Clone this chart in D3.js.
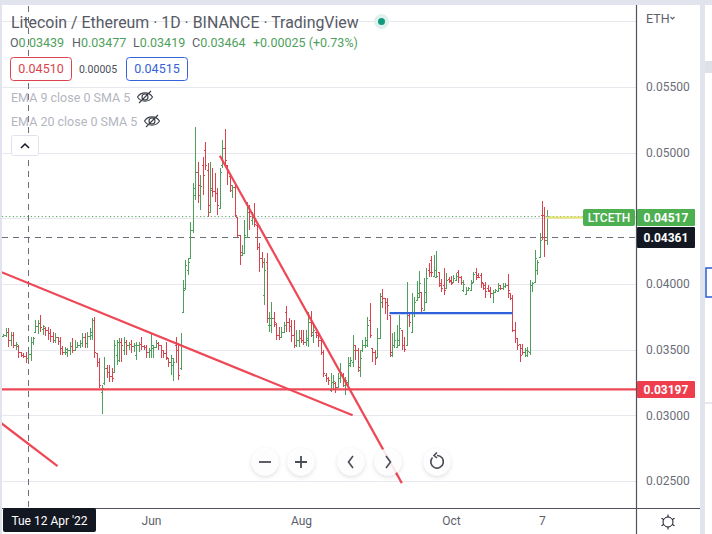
<!DOCTYPE html>
<html><head><meta charset="utf-8">
<script src="https://cdn.jsdelivr.net/npm/d3@7/dist/d3.min.js"></script>
<style>html,body{margin:0;padding:0;background:#fff}svg{display:block}text{font-family:Roboto,"Open Sans",sans-serif}</style>
</head><body><div id="chart"></div>
<script>
const firstBarDate = "2022-04-02";
const opens = [
.03604,.03611,.03634,.03573,.03611,.03535,.03528,.03482,.03459,.03451,
.03439,.03467,.03558,.03634,.03680,.03703,.03657,.03665,.03649,.03627,
.03604,.03573,.03596,.03566,.03512,.03482,.03482,.03497,.03528,.03497,
.03520,.03535,.03550,.03596,.03550,.03604,.03611,.03726,.03474,.03406,
.03177,.03246,.03360,.03329,.03299,.03329,.03459,.03421,.03558,.03497,
.03558,.03535,.03543,.03528,.03459,.03535,.03543,.03528,.03520,.03482,
.03497,.03512,.03520,.03550,.03535,.03497,.03474,.03436,.03406,.03383,
.03535,.03497,.03360,.03787,.03970,.04107,.04198,.04411,.04678,.04853,
.04678,.04907,.05021,.04869,.04549,.04732,.04709,.04693,.04579,.04907,
.05036,.04907,.04823,.04716,.04739,.04511,.04373,.04221,.04236,.04358,
.04549,.04488,.04511,.04450,.04282,.04198,.03916,.04168,.03688,.03688,
.03741,.03695,.03611,.03596,.03634,.03787,.03710,.03680,.03611,.03535,
.03573,.03589,.03573,.03558,.03573,.03710,.03611,.03634,.03611,.03573,
.03482,.03307,.03284,.03192,.03253,.03246,.03215,.03284,.03314,.03230,
.03253,.03383,.03406,.03535,.03497,.03345,.03497,.03535,.03535,.03726,
.03512,.03482,.03444,.03589,.03909,.03893,.03863,.03764,.03459,.03535,
.03520,.03535,.03649,.03535,.03535,.03764,.03634,.03787,.03878,.03901,
.03939,.03802,.03863,.04107,.04183,.04061,.04053,.04091,.04008,.03992,
.03970,.04038,.04030,.04015,.04030,.04091,.04053,.03954,.03924,.03954,
.03954,.04015,.04091,.04069,.04069,.04008,.03992,.03970,.03947,.03931,
.03939,.03947,.03992,.03970,.03985,.03992,.03931,.03893,.03649,.03589,
.03543,.03512,.03482,.03459,.03482,.03992,.04015,.04107,.04206,.04526,
.04526,.04335];
const highs = [
.03619,.03665,.03665,.03634,.03634,.03558,.03535,.03482,.03474,.03482,
.03477,.03596,.03596,.03726,.03726,.03764,.03688,.03672,.03672,.03657,
.03634,.03627,.03596,.03596,.03528,.03520,.03512,.03558,.03589,.03573,
.03558,.03573,.03627,.03627,.03634,.03665,.03741,.03749,.03474,.03436,
.03230,.03444,.03383,.03383,.03360,.03573,.03573,.03589,.03589,.03596,
.03573,.03558,.03573,.03550,.03558,.03558,.03596,.03535,.03535,.03512,
.03627,.03535,.03573,.03558,.03535,.03497,.03558,.03436,.03459,.03436,
.03596,.03550,.03627,.04030,.04183,.04198,.04472,.04770,.05196,.04930,
.04831,.04968,.05082,.04922,.04930,.04884,.04846,.04732,.04884,.05097,
.05181,.04907,.04831,.04754,.04754,.04511,.04373,.04297,.04488,.04625,
.04602,.04549,.04617,.04450,.04312,.04244,.04198,.04236,.03787,.03863,
.03787,.03703,.03672,.03672,.03710,.03832,.03741,.03726,.03726,.03649,
.03649,.03649,.03649,.03649,.03787,.03794,.03703,.03634,.03634,.03589,
.03497,.03322,.03291,.03322,.03307,.03253,.03322,.03398,.03322,.03291,
.03444,.03444,.03611,.03535,.03512,.03497,.03573,.03596,.03749,.03855,
.03512,.03497,.03665,.03931,.03962,.03893,.03893,.03764,.03627,.03634,
.03688,.03764,.03649,.03596,.04015,.03779,.03931,.03901,.04023,.04099,
.03939,.04046,.04122,.04160,.04213,.04221,.04251,.04091,.04038,.04122,
.04084,.04053,.04061,.04069,.04084,.04107,.04061,.04030,.03977,.03977,
.04030,.04091,.04122,.04084,.04084,.04008,.04015,.03992,.03977,.03954,
.03962,.04008,.03992,.04008,.04008,.04076,.03931,.03916,.03710,.03589,
.03543,.03543,.03512,.03520,.04030,.04015,.04259,.04183,.04389,.04632,
.04587,.04564];
const lows = [
.03596,.03596,.03520,.03528,.03512,.03497,.03436,.03444,.03436,.03398,
.03419,.03413,.03535,.03627,.03619,.03634,.03611,.03604,.03573,.03558,
.03550,.03550,.03535,.03459,.03459,.03459,.03444,.03459,.03474,.03497,
.03512,.03512,.03520,.03512,.03512,.03573,.03573,.03436,.03368,.03208,
.03009,.03230,.03284,.03253,.03253,.03322,.03383,.03406,.03406,.03459,
.03459,.03497,.03474,.03482,.03421,.03482,.03497,.03497,.03436,.03436,
.03436,.03436,.03512,.03497,.03436,.03436,.03421,.03368,.03307,.03261,
.03398,.03268,.03345,.03779,.03954,.04069,.04198,.04389,.04640,.04617,
.04564,.04678,.04869,.04511,.04549,.04663,.04625,.04526,.04579,.04884,
.04907,.04754,.04701,.04655,.04511,.04358,.04145,.04221,.04236,.04358,
.04411,.04450,.04434,.04259,.04091,.04122,.03840,.03703,.03634,.03627,
.03672,.03573,.03573,.03589,.03634,.03634,.03634,.03558,.03512,.03520,
.03520,.03550,.03535,.03528,.03520,.03596,.03550,.03589,.03520,.03459,
.03291,.03253,.03230,.03177,.03192,.03169,.03208,.03246,.03215,.03154,
.03230,.03368,.03368,.03421,.03329,.03291,.03482,.03512,.03520,.03589,
.03406,.03383,.03444,.03589,.03817,.03771,.03726,.03444,.03444,.03512,
.03512,.03535,.03497,.03482,.03535,.03672,.03634,.03749,.03878,.03901,
.03787,.03802,.03863,.04053,.04053,.04053,.04053,.03977,.03939,.03916,
.03970,.04008,.03992,.04008,.04030,.04008,.03992,.03939,.03916,.03954,
.03954,.04015,.04030,.04046,.03970,.03954,.03893,.03939,.03893,.03855,
.03939,.03939,.03954,.03954,.03970,.03893,.03878,.03634,.03550,.03497,
.03406,.03459,.03444,.03444,.03459,.03939,.04015,.04069,.04206,.04335,
.04206,.04297];
const closes = [
.03611,.03634,.03573,.03611,.03535,.03543,.03482,.03459,.03451,.03436,
.03464,.03558,.03589,.03680,.03703,.03672,.03680,.03649,.03627,.03604,
.03573,.03596,.03566,.03512,.03482,.03505,.03497,.03528,.03497,.03520,
.03535,.03550,.03596,.03550,.03604,.03634,.03726,.03482,.03406,.03230,
.03208,.03360,.03329,.03299,.03284,.03535,.03558,.03558,.03535,.03558,
.03535,.03543,.03528,.03535,.03535,.03543,.03528,.03520,.03482,.03497,
.03535,.03520,.03550,.03535,.03497,.03474,.03444,.03406,.03436,.03406,
.03497,.03307,.03535,.03954,.04145,.04168,.04411,.04732,.04853,.04754,
.04747,.04831,.04907,.04602,.04716,.04709,.04693,.04602,.04853,.05036,
.04945,.04853,.04754,.04739,.04526,.04373,.04244,.04236,.04373,.04549,
.04518,.04511,.04457,.04282,.04198,.04168,.04107,.03741,.03741,.03741,
.03710,.03611,.03596,.03634,.03688,.03710,.03680,.03611,.03535,.03573,
.03589,.03573,.03558,.03589,.03710,.03634,.03649,.03611,.03573,.03482,
.03322,.03284,.03268,.03253,.03261,.03215,.03284,.03329,.03268,.03268,
.03398,.03421,.03497,.03497,.03368,.03436,.03535,.03573,.03688,.03611,
.03482,.03436,.03589,.03863,.03893,.03863,.03840,.03482,.03535,.03573,
.03573,.03665,.03535,.03505,.03779,.03710,.03787,.03863,.03931,.04008,
.03817,.03939,.04046,.04091,.04091,.04107,.04061,.03992,.03970,.03954,
.04030,.04023,.04008,.04046,.04061,.04053,.04015,.04000,.03954,.03970,
.04008,.04076,.04053,.04053,.04015,.03970,.03947,.03954,.03931,.03939,
.03954,.03970,.03970,.03985,.03992,.03954,.03893,.03649,.03589,.03535,
.03459,.03482,.03497,.03489,.03992,.04008,.04198,.04168,.04335,.04358,
.04335,.04517];

const yTicks = [0.06, 0.055, 0.05, 0.045, 0.04, 0.035, 0.03, 0.025];
const yTickLabels = ["", "0.05500", "0.05000", "", "0.04000", "0.03500", "0.03000", "0.02500"];
const xTickDates = ["2022-06-01", "2022-08-01", "2022-10-01", "2022-11-07"];
const xTickLabels = ["Jun", "Aug", "Oct", "7"];
const trendA = [["2022-03-31", .04099], ["2022-08-22", .03000]];
const trendB = [["2022-06-29", .04977], ["2022-09-11", .02484]];
const trendC = [["2022-03-31", .02956], ["2022-04-24", .02613]];
const supportLevel = .03197;
const rangeLine = [["2022-09-06", .03779], ["2022-10-26", .03779]];
const crosshairDate = "2022-04-12";
const crosshairPrice = .04361;
const lastPrice = .04517;

const W = 712, H = 534, axisX = 636, axisBottom = 508, plotL = 2, plotT = 6, bandR = 700;
const parse = s => new Date(s + "T00:00:00Z");
const x = d3.scaleUtc().domain([parse("2022-06-01"), parse("2022-08-01")]).range([151, 301]);
const y = d3.scaleLinear().domain([0.055, 0.025]).range([87, 481]);
const UP = "#4f9f5c", DOWN = "#d8434e", RED = "#ee3e4e", GRID = "#e6e8ee";

const svg = d3.select("#chart").append("svg").attr("width", W).attr("height", H);
const defs = svg.append("defs");
defs.append("clipPath").attr("id", "plot").append("rect")
  .attr("x", plotL).attr("y", plotT).attr("width", axisX - plotL).attr("height", axisBottom - plotT);
const shadow = defs.append("filter").attr("id", "sh").attr("x", "-40%").attr("y", "-40%").attr("width", "180%").attr("height", "180%");
shadow.append("feDropShadow").attr("dx", 0).attr("dy", 1.5).attr("stdDeviation", 2).attr("flood-color", "#000").attr("flood-opacity", .16);

// page frame
svg.append("rect").attr("width", W).attr("height", H).attr("fill", "#fff");
const BAND = "#e1e4ec";
svg.append("rect").attr("width", W).attr("height", 5).attr("fill", BAND);
svg.append("rect").attr("width", 2).attr("height", H).attr("fill", BAND);
svg.append("rect").attr("x", bandR).attr("width", 5).attr("height", H).attr("fill", BAND);
svg.append("rect").attr("x", 705).attr("y", 61).attr("width", 7).attr("height", 12).attr("fill", "#dfe1e8");
svg.append("rect").attr("x", 705).attr("y", 402).attr("width", 7).attr("height", 2).attr("fill", "#e6e8ee");
svg.append("rect").attr("x", 706).attr("y", 268).attr("width", 8).attr("height", 29).attr("fill", "#fff").attr("stroke", "#3563d8").attr("stroke-width", 1.6);

// grid
svg.append("g").selectAll("line").data(yTicks).join("line")
  .attr("x1", plotL).attr("x2", axisX).attr("y1", d => Math.round(y(d)) + .5).attr("y2", d => Math.round(y(d)) + .5)
  .attr("stroke", GRID);

const plot = svg.append("g").attr("clip-path", "url(#plot)");
// last price dotted
plot.append("line").attr("x1", plotL).attr("x2", axisX).attr("y1", y(lastPrice) + .5).attr("y2", y(lastPrice) + .5)
  .attr("stroke", "#4f9f5c").attr("stroke-dasharray", "1.2 2.4");
// crosshair
const xh = plot.append("g").attr("stroke", "#6b6e78");
xh.append("line").attr("x1", Math.round(x(parse(crosshairDate))) + .5).attr("x2", Math.round(x(parse(crosshairDate))) + .5)
  .attr("y1", plotT).attr("y2", axisBottom).attr("stroke-dasharray", "6 5");
xh.append("line").attr("x1", plotL).attr("x2", axisX).attr("y1", Math.round(y(crosshairPrice)) + .5).attr("y2", Math.round(y(crosshairPrice)) + .5).attr("stroke-dasharray", "6 5");

// OHLC bars
const t0 = parse(firstBarDate);
const bars = opens.map((o, i) => ({ date: d3.utcDay.offset(t0, i), o, h: highs[i], l: lows[i], c: closes[i] }));
plot.append("g").attr("shape-rendering", "crispEdges").attr("fill", "none").selectAll("path").data(bars).join("path")
  .attr("stroke", d => d.c >= d.o ? UP : DOWN)
  .attr("d", d => {
    const px = Math.round(x(d.date)) + .5;
    return `M${px},${y(d.h)}V${y(d.l)}M${px - 1.5},${Math.round(y(d.o)) + .5}H${px}M${px},${Math.round(y(d.c)) + .5}H${px + 1.5}`;
  });

// drawings
const line = d3.line().x(d => x(parse(d[0]))).y(d => y(d[1]));
const RL = plot.append("g").attr("fill", "none").attr("stroke", RED).attr("stroke-width", 2.2).attr("opacity", .95);
RL.append("path").attr("d", line(trendA));
RL.append("path").attr("d", line(trendB));
RL.append("path").attr("d", line(trendC));
RL.append("path").attr("d", line([["2022-03-31", supportLevel], ["2022-12-31", supportLevel]]));
plot.append("path").attr("d", line(rangeLine)).attr("fill", "none").attr("stroke", "#2f62d8").attr("stroke-width", 2.2);
// yellow line to label
plot.append("line").attr("x1", x(bars[bars.length - 1].date)).attr("x2", 583).attr("y1", y(lastPrice) + 1.5).attr("y2", y(lastPrice) + 1.5)
  .attr("stroke", "#e8e36b").attr("stroke-width", 2);

// axes
const yAxis = d3.axisRight(y).tickValues(yTicks).tickSize(0).tickPadding(10).tickFormat((d, i) => yTickLabels[i]);
const gy = svg.append("g").attr("transform", `translate(${axisX},0)`).call(yAxis);
gy.select(".domain").remove();
gy.selectAll("text").attr("fill", "#6a6d78").attr("font-size", 12);
const xAxis = d3.axisBottom(x).tickValues(xTickDates.map(parse)).tickSize(0).tickPadding(8).tickFormat((d, i) => xTickLabels[i]);
const gx = svg.append("g").attr("transform", `translate(0,${axisBottom})`).call(xAxis);
gx.select(".domain").remove();
gx.selectAll("text").attr("fill", "#5d606b").attr("font-size", 12);

svg.append("line").attr("x1", axisX + .5).attr("x2", axisX + .5).attr("y1", 5).attr("y2", H).attr("stroke", "#50535e").attr("stroke-width", 1.2);
svg.append("line").attr("x1", plotL).attr("x2", bandR).attr("y1", axisBottom + .5).attr("y2", axisBottom + .5).attr("stroke", "#50535e").attr("stroke-width", 1.2);

// price labels
function pill(px, py, w, h, fill, txt, size, weight, r) {
  svg.append("rect").attr("x", px).attr("y", py).attr("width", w).attr("height", h).attr("fill", fill).attr("rx", r || 1);
  svg.append("text").attr("x", px + w / 2).attr("y", py + h / 2 + .5).attr("dy", ".35em").attr("text-anchor", "middle")
    .attr("fill", "#fff").attr("font-size", size).attr("font-weight", weight).text(txt);
}
pill(583, 209, 52, 17, "#4caf50", "LTCETH", 12, 500, 2);
pill(637, 209, 58, 17, "#4caf50", lastPrice.toFixed(5), 12, 700, 1);
pill(637, 227, 58, 21, "#131722", crosshairPrice.toFixed(5), 12, 700, 1);
pill(637, 381, 58, 17, "#ee3e4e", supportLevel.toFixed(5), 12, 700, 1);
pill(3, 508, 93, 24, "#131722", "Tue 12 Apr '22", 12, 400, 2);

// header
const T = (tx, ty, s, size, fill, extra) => {
  const n = svg.append("text").attr("x", tx).attr("y", ty).attr("font-size", size).attr("fill", fill).text(s);
  if (extra) extra(n);
  return n;
};
T(11, 28, "Litecoin / Ethereum · 1D · BINANCE · TradingView", 15.9, "#575a65");
svg.append("circle").attr("cx", 381.5).attr("cy", 21.5).attr("r", 7.5).attr("fill", "#e0f0ec");
svg.append("circle").attr("cx", 381.5).attr("cy", 21.5).attr("r", 3.5).attr("fill", "#119a7c");
const ohlc = [["O", "0.03439"], ["H", "0.03477"], ["L", "0.03419"], ["C", "0.03464"]];
const ohlcX = [10, 72, 133, 192];
ohlc.forEach((d, i) => {
  const n = T(ohlcX[i], 47, "", 12.5, "#5d606b");
  n.append("tspan").text(d[0]);
  n.append("tspan").attr("fill", "#4f9f5c").text(d[1]);
});
T(253, 47, "+0.00025 (+0.73%)", 12.5, "#4f9f5c");
svg.append("rect").attr("x", 10.5).attr("y", 57.5).attr("width", 61).attr("height", 23).attr("rx", 3).attr("fill", "#fff").attr("stroke", "#d8434e");
T(41, 73, "0.04510", 12.5, "#d8434e", n => n.attr("text-anchor", "middle"));
T(98, 73, "0.00005", 10.5, "#4b4e58", n => n.attr("text-anchor", "middle"));
svg.append("rect").attr("x", 126.5).attr("y", 57.5).attr("width", 61).attr("height", 23).attr("rx", 3).attr("fill", "#fff").attr("stroke", "#3563d8");
T(157, 73, "0.04515", 12.5, "#3563d8", n => n.attr("text-anchor", "middle"));
T(11, 102, "EMA 9 close 0 SMA 5", 12.5, "#b4b6bf");
T(11, 126, "EMA 20 close 0 SMA 5", 12.5, "#b4b6bf");

function eye(cx, cy) {
  const g = svg.append("g").attr("transform", `translate(${cx},${cy})`).attr("fill", "none").attr("stroke", "#3a3d47").attr("stroke-width", 1.1);
  g.append("path").attr("d", "M-7.5,0C-4,-5.5 4,-5.5 7.5,0C4,5.5 -4,5.5 -7.5,0Z");
  g.append("path").attr("d", "M-3,0A3,3 0 0 1 3,0A3,3 0 0 1 -3,0Z");
  g.append("path").attr("d", "M-6,6L6,-6");
}
eye(145, 97); eye(152, 121);

svg.append("rect").attr("x", 11.5).attr("y", 135.5).attr("width", 27).attr("height", 20).attr("rx", 2).attr("fill", "#fff").attr("stroke", "#e0e3eb");
svg.append("path").attr("d", "M21,148L25,144L29,148").attr("fill", "none").attr("stroke", "#131722").attr("stroke-width", 1.5);

T(646, 23, "ETH", 12.5, "#5d606b");
svg.append("path").attr("d", "M670.5,17L672.5,19L674.5,17").attr("fill", "none").attr("stroke", "#5d606b").attr("stroke-width", 1.1);

// nav buttons
const navX = [265, 301, 351, 388, 437];
const navY = 462;
const nav = svg.append("g").selectAll("circle").data(navX).join("circle")
  .attr("cx", d => d).attr("cy", navY).attr("r", 13.5).attr("fill", "#fff").attr("fill-opacity", .86).attr("filter", "url(#sh)");
const icon = (d, sw) => svg.append("path").attr("d", d).attr("fill", "none").attr("stroke", "#4a4d57").attr("stroke-width", sw || 1.8);
icon("M259,462H271");
icon("M295,462H307M301,456V468");
icon("M353,456L348.5,462L353,468", 1.6);
icon("M386,456L390.5,462L386,468", 1.6);
icon("M432.5,457.5A6.3,6.3 0 1 0 437,455.5M437,452.5L434,455.5L437,458", 1.6);

// sun icon
const sun = svg.append("g").attr("transform", "translate(668,522)").attr("fill", "none").attr("stroke", "#131722").attr("stroke-width", 1);
sun.append("circle").attr("r", 5);
sun.selectAll("line").data([0, 60, 120, 180, 240, 300]).join("line")
  .attr("x1", 0).attr("y1", -5).attr("x2", 0).attr("y2", -7.5).attr("transform", d => `rotate(${d})`);
</script></body></html>
